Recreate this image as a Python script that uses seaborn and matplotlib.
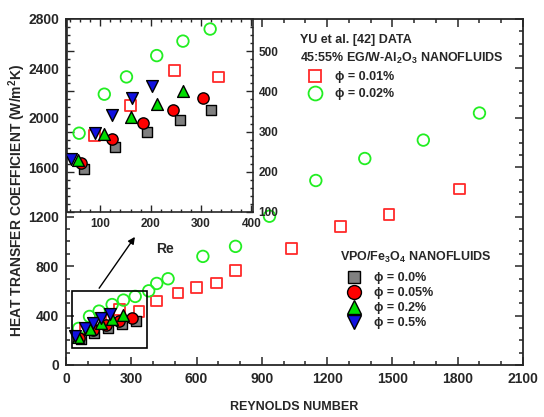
import matplotlib
matplotlib.use("Agg")
import matplotlib.pyplot as plt
import seaborn as sns
from matplotlib.lines import Line2D
from matplotlib.patches import Rectangle
from matplotlib.ticker import MultipleLocator

# Yu et al. data (45:55% EG/W-Al2O3)
yu_re_001 = [88, 160, 247, 335, 416, 515, 599, 690, 779, 1037, 1263, 1484, 1808]
yu_h_001 = [291, 364, 452, 436, 517, 582, 628, 663, 765, 945, 1122, 1217, 1425]
yu_re_002 = [58, 108, 152, 212, 264, 318, 380, 417, 469, 629, 779, 935, 1148, 1373, 1642, 1900]
yu_h_002 = [296, 393, 436, 489, 525, 555, 600, 660, 698, 879, 960, 1204, 1493, 1671, 1820, 2039]

# VPO/Fe3O4 nanofluids
vpo_re_00 = [67, 130, 193, 258, 320]
vpo_h_00 = [207, 262, 300, 328, 354]
vpo_re_005 = [62, 123, 184, 244, 303]
vpo_h_005 = [221, 282, 321, 353, 383]
vpo_re_02 = [56, 108, 160, 213, 264]
vpo_h_02 = [229, 294, 337, 369, 402]
vpo_re_05 = [42, 89, 123, 162, 203]
vpo_h_05 = [231, 296, 342, 384, 413]

RED = "#ff2a2a"
GREEN = "#22ee22"
BLUE = "#1010e0"
GRAY = "#808080"
FAM = ["Liberation Sans", "DejaVu Sans"]

sns.set_style("ticks")
plt.rcParams["font.family"] = FAM
plt.rcParams["font.weight"] = "bold"
plt.rcParams["mathtext.fontset"] = "custom"
plt.rcParams["mathtext.rm"] = "Liberation Sans:bold"
plt.rcParams["mathtext.default"] = "rm"

W, H = 544, 417
fig = plt.figure(figsize=(W / 100, H / 100), dpi=100)


def px(x0, y0, x1, y1):
    return [x0 / W, 1 - y1 / H, (x1 - x0) / W, (y1 - y0) / H]


def draw_series(ax, s):
    sns.scatterplot(x=yu_re_001, y=yu_h_001, marker="s", s=s, facecolor="none",
                    edgecolor=RED, linewidth=1.3, ax=ax, zorder=3)
    sns.scatterplot(x=yu_re_002, y=yu_h_002, marker="o", s=s * 1.15, facecolor="none",
                    edgecolor=GREEN, linewidth=1.3, ax=ax, zorder=3)
    sns.scatterplot(x=vpo_re_00, y=vpo_h_00, marker="s", s=s, color=GRAY,
                    edgecolor="k", linewidth=1.0, ax=ax, zorder=4)
    sns.scatterplot(x=vpo_re_005, y=vpo_h_005, marker="o", s=s * 1.1, color="red",
                    edgecolor="k", linewidth=1.0, ax=ax, zorder=4)
    sns.scatterplot(x=vpo_re_02, y=vpo_h_02, marker="^", s=s * 1.2, color="#00dd00",
                    edgecolor="k", linewidth=1.0, ax=ax, zorder=4)
    sns.scatterplot(x=vpo_re_05, y=vpo_h_05, marker="v", s=s * 1.2, color=BLUE,
                    edgecolor="k", linewidth=1.0, ax=ax, zorder=4)


# main axes
ax = fig.add_axes(px(66, 19, 523, 365))
draw_series(ax, 60)
ax.set_xlim(0, 2100)
ax.set_ylim(0, 2800)
ax.xaxis.set_major_locator(MultipleLocator(300))
ax.xaxis.set_minor_locator(MultipleLocator(100))
ax.yaxis.set_major_locator(MultipleLocator(400))
ax.yaxis.set_minor_locator(MultipleLocator(100))
ax.tick_params(which="both", direction="in", top=True, right=True, width=1.1)
ax.tick_params(which="major", length=6, labelsize=10, pad=5)
ax.tick_params(which="minor", length=3)
for sp in ax.spines.values():
    sp.set_linewidth(1.3)
ax.set_xlabel("REYNOLDS NUMBER", fontsize=9, fontweight="bold", labelpad=11)
ax.set_ylabel("HEAT TRANSFER COEFFICIENT (W/m$^2$K)", fontsize=10, fontweight="bold")
ax.yaxis.set_label_coords(-0.083, 0.477)

ax.add_patch(Rectangle((26, 140), 344, 455, fill=False, ec="k", lw=1.2, zorder=5))
ax.annotate("", xy=(324, 1055), xytext=(145, 603),
            arrowprops=dict(arrowstyle="-|>", color="k", lw=1.0, mutation_scale=10))
ax.text(454, 940, "Re", fontsize=10, fontweight="bold", ha="center", va="center")

# inset
ins = fig.add_axes(px(67, 19, 253, 212))
ins.set_facecolor("white")
draw_series(ins, 60)
ins.set_xlim(34, 403)
ins.set_ylim(100, 580)
ins.xaxis.set_major_locator(MultipleLocator(100))
ins.xaxis.set_minor_locator(MultipleLocator(20))
ins.yaxis.set_major_locator(MultipleLocator(100))
ins.yaxis.set_minor_locator(MultipleLocator(20))
ins.tick_params(which="both", direction="in", top=True, right=True, left=True,
                labelleft=False, labelright=True, width=1.0)
ins.tick_params(which="major", length=5, labelsize=8.5, pad=4)
ins.tick_params(which="minor", length=2.5)
for sp in ins.spines.values():
    sp.set_linewidth(1.2)

# legends
fig.text(300 / W, 1 - 40 / H, "YU et al. [42] DATA", fontsize=9, fontweight="bold", va="center")
fig.text(300 / W, 1 - 58 / H, "45:55% EG/W-Al$_2$O$_3$ NANOFLUIDS", fontsize=9,
         fontweight="bold", va="center")
h1 = [Line2D([], [], ls="none", marker="s", ms=9, mfc="none", mec=RED, mew=1.3),
      Line2D([], [], ls="none", marker="o", ms=10, mfc="none", mec=GREEN, mew=1.3)]
leg1 = ax.legend(h1, ["ϕ = 0.01%", "ϕ = 0.02%"], loc="upper left", frameon=False,
                 bbox_to_anchor=(309 / W, 1 - 71 / H), bbox_transform=fig.transFigure,
                 prop=dict(family=FAM, weight="bold", size=9), handlelength=1.0,
                 handletextpad=1.1, borderpad=0, borderaxespad=0, labelspacing=0.4)
ax.add_artist(leg1)

fig.text(340 / W, 1 - 257 / H, "VPO/Fe$_3$O$_4$ NANOFLUIDS", fontsize=9,
         fontweight="bold", va="center")
h2 = [Line2D([], [], ls="none", marker="s", ms=9, mfc=GRAY, mec="k", mew=1.0),
      Line2D([], [], ls="none", marker="o", ms=10, mfc="red", mec="k", mew=1.0),
      Line2D([], [], ls="none", marker="^", ms=10, mfc="#00dd00", mec="k", mew=1.0),
      Line2D([], [], ls="none", marker="v", ms=10, mfc=BLUE, mec="k", mew=1.0)]
leg2 = ax.legend(h2, ["ϕ = 0.0%", "ϕ = 0.05%", "ϕ = 0.2%", "ϕ = 0.5%"], loc="upper left",
                 frameon=False, bbox_to_anchor=(348 / W, 1 - 272 / H),
                 bbox_transform=fig.transFigure,
                 prop=dict(family=FAM, weight="bold", size=9), handlelength=1.0,
                 handletextpad=1.1, borderpad=0, borderaxespad=0, labelspacing=0.25)

fig.savefig("out.png", dpi=100)
